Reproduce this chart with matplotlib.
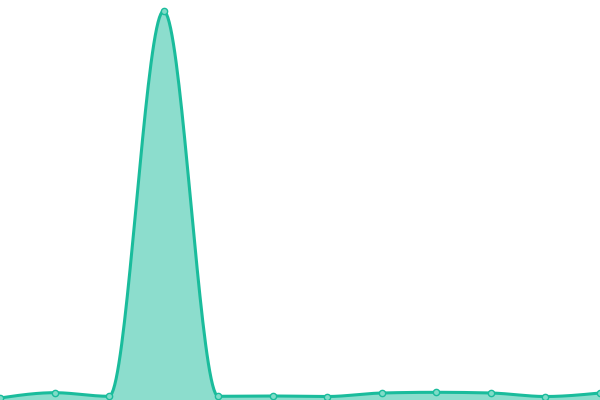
import numpy as np
import matplotlib
matplotlib.use("Agg")
import matplotlib.pyplot as plt

# values (arbitrary units, axis 0..400)
labels = list(range(12))
values = [2, 7.3, 3.7, 389, 3.7, 4, 3.5, 7, 7.7, 7, 3.5, 7]


def monotone_x(x, y, n=40):
    # d3-style monotoneX curve, sampled densely
    x = np.asarray(x, float)
    y = np.asarray(y, float)
    h = np.diff(x)
    s = np.diff(y) / h
    t = np.zeros(len(x))
    for i in range(1, len(x) - 1):
        s0, s1 = s[i - 1], s[i]
        p = (s0 * h[i] + s1 * h[i - 1]) / (h[i - 1] + h[i])
        t[i] = (np.sign(s0) + np.sign(s1)) * min(abs(s0), abs(s1), 0.5 * abs(p))
    t[0] = (3 * s[0] - t[1]) / 2
    t[-1] = (3 * s[-1] - t[-2]) / 2
    xs, ys = [], []
    u = np.linspace(0, 1, n)
    for i in range(len(x) - 1):
        dx = h[i] / 3
        p0 = (x[i], y[i])
        p1 = (x[i] + dx, y[i] + dx * t[i])
        p2 = (x[i + 1] - dx, y[i + 1] - dx * t[i + 1])
        p3 = (x[i + 1], y[i + 1])
        bx = (1 - u) ** 3 * p0[0] + 3 * (1 - u) ** 2 * u * p1[0] + 3 * (1 - u) * u ** 2 * p2[0] + u ** 3 * p3[0]
        by = (1 - u) ** 3 * p0[1] + 3 * (1 - u) ** 2 * u * p1[1] + 3 * (1 - u) * u ** 2 * p2[1] + u ** 3 * p3[1]
        xs.extend(bx)
        ys.extend(by)
    return np.array(xs), np.array(ys)


line_color = '#1abc9c'
fig = plt.figure(figsize=(6, 4), dpi=100)
ax = fig.add_axes([0, 0, 1, 1])

cx, cy = monotone_x(labels, values)
ax.fill_between(cx, 0, cy, color=line_color, alpha=0.5, linewidth=0)
ax.plot(cx, cy, color=line_color, linewidth=2.2, solid_capstyle='round')
ax.plot(labels, values, 'o', markersize=4.5, markerfacecolor='#7fdcc8',
        markeredgecolor=line_color, markeredgewidth=1.0, clip_on=True)

ax.set_xlim(0, 11)
ax.set_ylim(0, 400)
ax.axis('off')

fig.savefig('out.png', dpi=100)
